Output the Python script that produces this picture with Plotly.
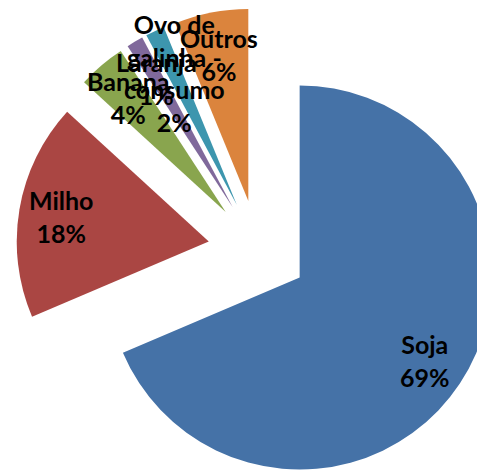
import numpy as np
import plotly.graph_objects as go

# dados do gráfico
culturas = ["Soja", "Milho", "Banana", "Laranja", "Ovo de<br>galinha -<br>consumo", "Outros"]
participacao = [68.6, 18.2, 4.0, 1.4, 1.6, 6.2]
cores = ["#4572A7", "#AA4643", "#89A54E", "#80699B", "#3D96AE", "#DB843D"]

W, H = 500, 484
DOM_X = [0.016, 0.984]
PULL = 0.26
FONTE = 25

fig = go.Figure()

fig.add_trace(go.Pie(
    labels=culturas,
    values=participacao,
    sort=False,
    direction="clockwise",
    rotation=0,
    pull=PULL,
    marker=dict(colors=cores, line=dict(width=0)),
    textinfo="none",
    showlegend=False,
    domain=dict(x=DOM_X, y=[0, 1]),
))

# rótulos estilo Excel: ao longo do ângulo médio de cada fatia
caixa = min(W * (DOM_X[1] - DOM_X[0]), H)
raio = caixa / (2 + 2 * PULL)
cx, cy = W * sum(DOM_X) / 2, H / 2
total = sum(participacao)
acum = np.cumsum([0] + participacao)
meio = (acum[:-1] + acum[1:]) / 2 / total * 2 * np.pi
altura_linha = 1.3 * FONTE

for nome, valor, ang in zip(culturas, participacao, meio):
    texto = f"{nome}<br>{round(valor / total * 100):.0f}%"
    meia_altura = (texto.count("<br>") + 1) * altura_linha / 2
    d = (PULL + 0.78) * raio
    # puxa para dentro se o rótulo sair pelo topo
    if cy - d * np.cos(ang) < meia_altura:
        d = (cy - meia_altura) / np.cos(ang)
    x = cx + d * np.sin(ang)
    y = cy - d * np.cos(ang)
    fig.add_annotation(
        x=x / W, y=1 - y / H, xref="paper", yref="paper",
        text=texto, showarrow=False,
        xanchor="center", yanchor="middle",
        font=dict(family="Lato", size=FONTE, color="black", weight="bold"),
    )

fig.update_layout(
    width=W,
    height=H,
    margin=dict(l=0, r=0, t=0, b=0),
    paper_bgcolor="white",
)

fig.write_html("out.html")
